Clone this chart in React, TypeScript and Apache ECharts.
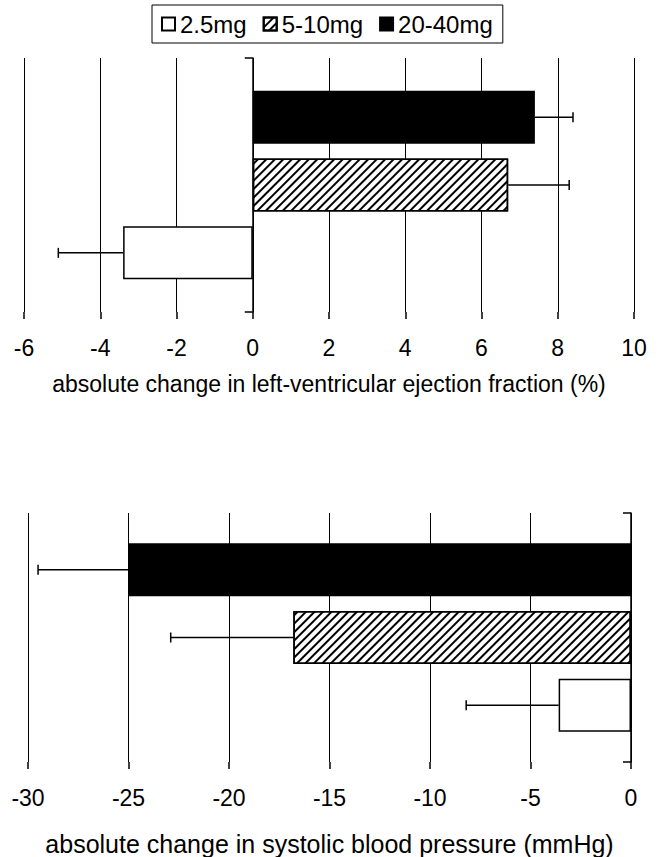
import React, { useEffect, useRef } from "react";
import * as echarts from "echarts";

// Doses (legend order)
const doses = ["2.5mg", "5-10mg", "20-40mg"];

// Top panel: absolute change in LVEF (%)
const lvefMean = [-3.4, 6.7, 7.4];
const lvefErr = [1.7, 1.6, 1.0];
const lvefTicks = { min: -6, max: 10, interval: 2 };

// Bottom panel: absolute change in systolic BP (mmHg)
const sbpMean = [-3.6, -16.8, -25.0];
const sbpErr = [4.6, 6.1, 4.5];
const sbpTicks = { min: -30, max: 0, interval: 5 };

const topTitle = "absolute change in left-ventricular ejection fraction (%)";
const bottomTitle = "absolute change in systolic blood pressure (mmHg)";

const FONT = "Liberation Sans, Arial, sans-serif";
const BAR_W = 53;
const BAR_GAP = 0.28;

// series drawn top -> bottom: 20-40mg, 5-10mg, 2.5mg
const drawOrder = [2, 1, 0];

const hatch = {
  symbol: "rect",
  symbolSize: 1,
  symbolKeepAspect: false,
  color: "#000",
  backgroundColor: "#fff",
  dashArrayX: [1, 0],
  dashArrayY: [2, 4],
  rotation: -Math.PI / 4,
};

function barStyle(doseIdx: number) {
  if (doseIdx === 0) return { color: "#fff", borderColor: "#000", borderWidth: 1.5 };
  if (doseIdx === 1) return { color: "#fff", borderColor: "#000", borderWidth: 1.5, decal: hatch };
  return { color: "#000", borderColor: "#000", borderWidth: 1.5 };
}

function errorRender(params: any, api: any) {
  const barVal = api.value(0);
  const endVal = api.value(1);
  const order = api.value(2);
  const n = 3;
  const total = n * BAR_W + (n - 1) * BAR_W * BAR_GAP;
  const center = api.coord([barVal, 0]);
  const y = center[1] - total / 2 + order * BAR_W * (1 + BAR_GAP) + BAR_W / 2;
  const x0 = center[0];
  const x1 = api.coord([endVal, 0])[0];
  const st = { stroke: "#000", lineWidth: 1.5 };
  return {
    type: "group",
    children: [
      { type: "line", shape: { x1: x0, y1: y, x2: x1, y2: y }, style: st },
      { type: "line", shape: { x1: x1, y1: y - 5, x2: x1, y2: y + 5 }, style: st },
    ],
  };
}

function buildSeries(means: number[], errs: number[], gridIdx: number) {
  const series: any[] = drawOrder.map((d) => ({
    name: doses[d],
    type: "bar",
    xAxisIndex: gridIdx,
    yAxisIndex: gridIdx,
    barWidth: BAR_W,
    barGap: BAR_GAP * 100 + "%",
    itemStyle: barStyle(d),
    data: [means[d]],
    z: 3,
  }));
  series.push({
    type: "custom",
    xAxisIndex: gridIdx,
    yAxisIndex: gridIdx,
    renderItem: errorRender,
    encode: { x: [0, 1], y: 3 },
    z: 2,
    silent: true,
    data: drawOrder.map((d, i) => {
      const m = means[d];
      const end = m >= 0 ? m + errs[d] : m - errs[d];
      return [m, end, i, 0];
    }),
  });
  return series;
}

function xAxisCfg(
  t: { min: number; max: number; interval: number },
  gridIdx: number,
  name: string,
  nameGap: number,
  nameSize: number
) {
  return {
    type: "value",
    gridIndex: gridIdx,
    min: t.min,
    max: t.max,
    interval: t.interval,
    name,
    nameLocation: "middle",
    nameGap,
    nameTextStyle: { fontSize: nameSize, color: "#000", fontFamily: FONT },
    axisLine: { onZero: false, lineStyle: { color: "#000", width: 1.5 } },
    axisTick: { show: true, length: 7, lineStyle: { color: "#000", width: 1.5 } },
    axisLabel: { fontSize: 23, color: "#000", fontFamily: FONT, margin: 24 },
    splitLine: { show: true, lineStyle: { color: "#000", width: 1 } },
  };
}

function yAxisCfg(gridIdx: number) {
  return {
    type: "category",
    gridIndex: gridIdx,
    data: ["x"],
    axisLine: { onZero: true, lineStyle: { color: "#000", width: 1.5 } },
    axisTick: { show: true, length: 8, lineStyle: { color: "#000", width: 1.5 } },
    axisLabel: { show: false },
    splitLine: { show: false },
  };
}

export default function App() {
  const ref = useRef<HTMLDivElement>(null);
  useEffect(() => {
    if (!ref.current) return;
    const chart = echarts.init(ref.current, null, { renderer: "svg" });
    chart.setOption({
      animation: false,
      backgroundColor: "#fff",
      textStyle: { fontFamily: FONT },
      legend: {
        data: doses,
        left: 152,
        top: 5,
        orient: "horizontal",
        borderColor: "#000",
        borderWidth: 1,
        padding: [7, 10, 7, 9],
        itemWidth: 13,
        itemHeight: 13,
        itemGap: 16,
        icon: "rect",
        textStyle: { fontSize: 24, color: "#000", fontFamily: FONT },
        selectedMode: false,
      },
      grid: [
        { left: 24, right: 26, top: 58, height: 254, containLabel: false },
        { left: 28, right: 29, top: 513, height: 251, containLabel: false },
      ],
      xAxis: [
        xAxisCfg(lvefTicks, 0, topTitle, 60, 23),
        xAxisCfg(sbpTicks, 1, bottomTitle, 69, 25),
      ],
      yAxis: [yAxisCfg(0), yAxisCfg(1)],
      series: [...buildSeries(lvefMean, lvefErr, 0), ...buildSeries(sbpMean, sbpErr, 1)],
    });
    return () => chart.dispose();
  }, []);
  return (
    <div
      ref={ref}
      style={{ position: "fixed", left: 0, top: 0, width: 660, height: 857, background: "#fff" }}
    />
  );
}
